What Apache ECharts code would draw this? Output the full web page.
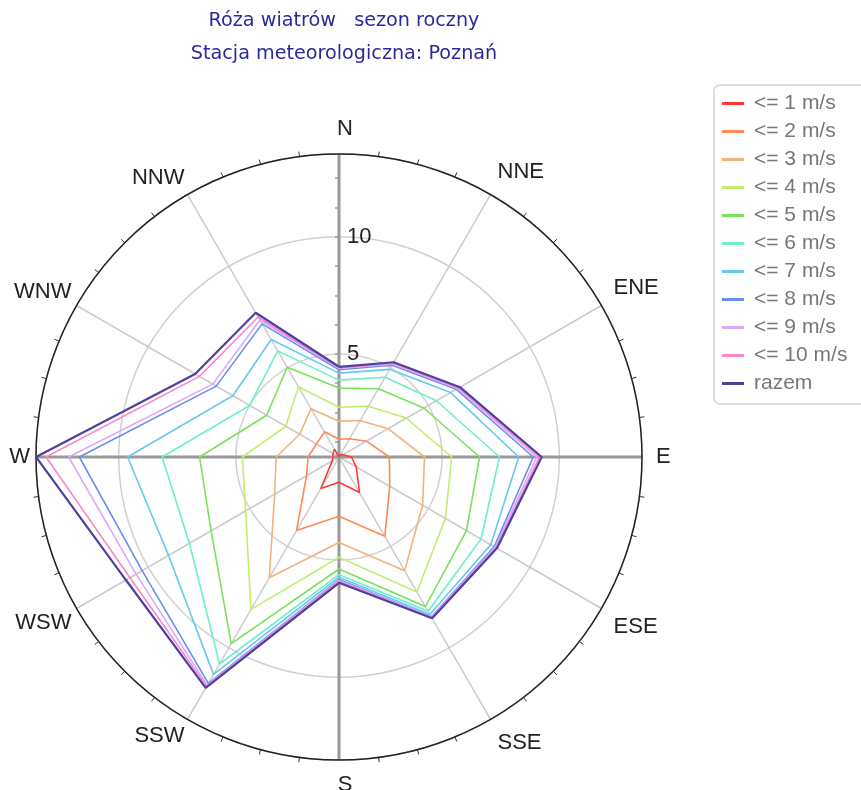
<!DOCTYPE html>
<html>
<head>
<meta charset="utf-8">
<script src="https://cdn.jsdelivr.net/npm/echarts@6/dist/echarts.min.js"></script>
<style>
  html, body { margin: 0; padding: 0; background: #fff; }
  #chart { width: 861px; height: 790px; }
</style>
</head>
<body>
<div id="chart"></div>
<script>
// kierunki (co 30 stopni, od N zgodnie z ruchem wskazowek)
const dirs = ['N', 'NNE', 'ENE', 'E', 'ESE', 'SSE', 'S', 'SSW', 'WSW', 'W', 'WNW', 'NNW'];

// wartosci skumulowane [%] dla kazdego kierunku
const ms1  = [0.60, 0.70, 0.80, 1.13, 1.45, 2.35, 1.68, 2.15, 0.93, 0.86, 0.90, 0.98];
const ms2  = [1.36, 1.50, 1.95, 2.75, 3.10, 4.51, 3.13, 4.22, 2.20, 1.92, 1.71, 1.84];
const ms3  = [2.13, 2.40, 3.02, 4.25, 4.72, 6.20, 4.25, 6.55, 3.77, 3.28, 2.54, 2.98];
const ms4  = [2.72, 3.10, 3.92, 5.41, 5.84, 7.25, 4.88, 8.12, 5.20, 4.72, 3.22, 4.06];
const ms5  = [3.54, 3.96, 4.78, 6.60, 6.88, 7.97, 5.38, 9.80, 6.90, 6.55, 4.16, 5.02];
const ms6  = [3.88, 4.53, 5.40, 7.45, 7.60, 8.20, 5.62, 10.80, 7.97, 8.15, 5.00, 5.83];
const ms7  = [4.18, 4.92, 6.10, 8.27, 8.08, 8.36, 5.73, 11.31, 9.00, 9.62, 5.83, 6.39];
const ms8  = [4.32, 5.12, 6.38, 8.89, 8.25, 8.48, 5.83, 11.75, 10.30, 11.68, 6.65, 7.16];
const ms9  = [4.38, 5.18, 6.45, 9.04, 8.30, 8.50, 5.87, 11.85, 10.60, 12.14, 6.82, 7.35];
const ms10 = [4.40, 5.22, 6.50, 9.15, 8.34, 8.52, 5.90, 11.90, 10.90, 13.10, 7.48, 7.50];
const razem = [4.45, 5.27, 6.56, 9.25, 8.38, 8.55, 5.97, 11.98, 11.10, 13.53, 7.69, 7.71];

const names = ['<= 1 m/s', '<= 2 m/s', '<= 3 m/s', '<= 4 m/s', '<= 5 m/s', '<= 6 m/s',
               '<= 7 m/s', '<= 8 m/s', '<= 9 m/s', '<= 10 m/s', 'razem'];
const values = [ms1, ms2, ms3, ms4, ms5, ms6, ms7, ms8, ms9, ms10, razem];
const colors = ['#ff3838', '#ff8a55', '#f2b27a', '#c4ec6e', '#78e25a', '#6cf0c8',
                '#68c8f4', '#6a8ef0', '#dca8f8', '#f888c8', '#4e40a0'];

// podzialki osi promieniowej
const radiusTicks = [1.25, 2.5, 3.75, 5, 6.25, 7.5, 8.75, 10, 11.25, 12.5];

const all = values.flat();
const rMin = Math.min(...all);
const rMax = Math.max(...all);

const center = [339, 457];
const radius = 303;
const font = 'Liberation Sans, Arial, sans-serif';

const series = values.map(function (arr, k) {
  const pts = arr.map(function (v, i) { return [v, i * 30]; });
  pts.push([arr[0], 360]);
  return {
    name: names[k],
    type: 'line',
    coordinateSystem: 'polar',
    polarIndex: 0,
    symbol: 'none',
    z: 3 + k,
    lineStyle: { color: colors[k], width: k === 10 ? 2.2 : 1.6 },
    itemStyle: { color: colors[k] },
    data: pts
  };
});

const labelStyle = { fontFamily: font, fontSize: 22, color: '#222' };

// prawa strona + N i S
function rightLabel(v) {
  const d = dirs[v / 30];
  if (!d || v > 180) return '';
  return (v === 0 || v === 180) ? '{c|' + d + '}' : d;
}
// lewa strona
function leftLabel(v) {
  const d = dirs[v / 30];
  return (d && v > 180) ? d : '';
}

const option = {
  animation: false,
  title: {
    text: 'Róża wiatrów   sezon roczny\nStacja meteorologiczna: Poznań',
    left: center[0],
    textAlign: 'center',
    top: 0,
    textStyle: {
      fontFamily: 'DejaVu Sans, sans-serif',
      fontSize: 19.2,
      fontWeight: 'normal',
      color: '#2a2a9a',
      lineHeight: 33
    }
  },
  legend: {
    orient: 'vertical',
    left: 714,
    top: 85,
    padding: [8, 40, 10, 8],
    itemGap: 7,
    itemWidth: 22,
    itemHeight: 3,
    icon: 'rect',
    borderColor: '#d4d4d4',
    borderWidth: 1.5,
    borderRadius: 6,
    textStyle: { fontFamily: font, fontSize: 21, color: '#777', padding: [0, 0, 0, 5] },
    data: names
  },
  polar: [
    { center: center, radius: radius },
    { center: center, radius: radius },
    { center: center, radius: radius }
  ],
  angleAxis: [
    {
      polarIndex: 0,
      type: 'value',
      min: 0,
      max: 360,
      interval: 30,
      startAngle: 90,
      clockwise: true,
      z: 1,
      axisLine: { show: true, lineStyle: { color: '#222', width: 1.5 } },
      axisTick: { show: true, inside: true, length: 5, lineStyle: { color: '#333' } },
      minorTick: { show: true, splitNumber: 4, length: -5, lineStyle: { color: '#333' } },
      splitLine: { show: true, lineStyle: { color: '#cccccc', width: 1.5 } },
      axisLabel: Object.assign({
        margin: 14,
        formatter: rightLabel,
        rich: { c: Object.assign({ padding: [0, 0, 0, 12] }, labelStyle) }
      }, labelStyle)
    },
    {
      polarIndex: 1,
      type: 'value',
      min: 0,
      max: 360,
      interval: 90,
      startAngle: 90,
      clockwise: true,
      z: 1,
      axisLine: { show: false },
      axisTick: { show: false },
      axisLabel: { show: false },
      splitLine: { show: true, lineStyle: { color: '#999', width: 3 } }
    },
    {
      polarIndex: 2,
      type: 'value',
      min: 0,
      max: 360,
      interval: 30,
      startAngle: 90,
      clockwise: true,
      axisLine: { show: false },
      axisTick: { show: false },
      splitLine: { show: false },
      axisLabel: Object.assign({ margin: 6, formatter: leftLabel }, labelStyle)
    }
  ],
  radiusAxis: [
    {
      polarIndex: 0,
      type: 'value',
      min: rMin,
      max: rMax,
      splitNumber: 2,
      z: 0,
      axisLine: { show: false },
      axisTick: { show: false },
      splitLine: { show: true, lineStyle: { color: '#d0d0d0', width: 1.5 } },
      axisLabel: Object.assign({
        showMinLabel: false,
        showMaxLabel: false,
        margin: -8,
        align: 'left'
      }, labelStyle)
    },
    {
      polarIndex: 1,
      type: 'value',
      min: rMin,
      max: rMax,
      z: 1,
      axisLine: { show: false },
      axisTick: { show: true, inside: true, length: 4, customValues: radiusTicks, lineStyle: { color: '#999', width: 1.5 } },
      axisLabel: { show: false },
      splitLine: { show: false }
    },
    {
      polarIndex: 2,
      type: 'value',
      min: rMin,
      max: rMax,
      show: false,
      axisLine: { show: false },
      axisTick: { show: false },
      axisLabel: { show: false },
      splitLine: { show: false }
    }
  ],
  series: series
};

const chart = echarts.init(document.getElementById('chart'));
chart.setOption(option);
</script>
</body>
</html>
